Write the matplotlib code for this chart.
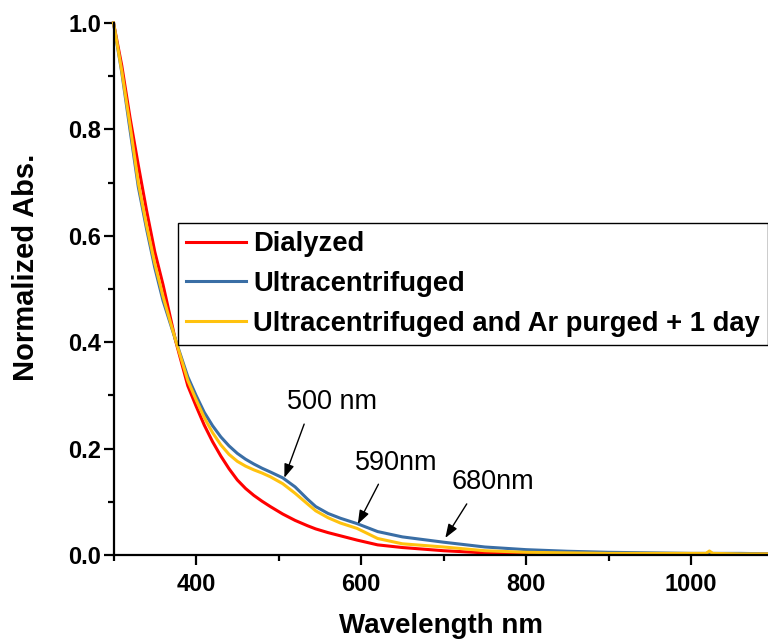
import matplotlib
matplotlib.use("Agg")
import matplotlib.pyplot as plt
from matplotlib.ticker import MultipleLocator, FormatStrFormatter

wavelength = [300, 310, 320, 330, 340, 350, 360, 375, 390, 400, 410, 420, 430, 440,
              450, 460, 470, 480, 490, 505, 520, 535, 545, 560, 575, 595, 620, 650,
              700, 750, 800, 850, 900, 950, 1000, 1018, 1022, 1026, 1060, 1100]

abs_dialyzed = [1.0, 0.920, 0.822, 0.733, 0.648, 0.570, 0.508, 0.404, 0.318, 0.280, 0.244, 0.213, 0.186, 0.162,
                0.141, 0.125, 0.112, 0.101, 0.091, 0.077, 0.065, 0.055, 0.049, 0.042, 0.036, 0.028, 0.019, 0.014,
                0.008, 0.004, 0.003, 0.002, 0.002, 0.002, 0.002, 0.002, 0.002, 0.002, 0.002, 0.002]

abs_ultra = [1.0, 0.907, 0.799, 0.692, 0.613, 0.540, 0.478, 0.405, 0.335, 0.300, 0.268, 0.243, 0.222, 0.205,
             0.191, 0.180, 0.171, 0.163, 0.156, 0.145, 0.128, 0.105, 0.091, 0.078, 0.069, 0.059, 0.044, 0.034,
             0.024, 0.015, 0.010, 0.007, 0.005, 0.004, 0.003, 0.003, 0.004, 0.003, 0.003, 0.002]

abs_ultra_ar = [1.0, 0.910, 0.808, 0.700, 0.620, 0.548, 0.486, 0.405, 0.328, 0.292, 0.258, 0.230, 0.207, 0.189,
                0.176, 0.167, 0.160, 0.154, 0.147, 0.134, 0.116, 0.096, 0.083, 0.070, 0.060, 0.050, 0.031, 0.021,
                0.015, 0.008, 0.005, 0.004, 0.003, 0.003, 0.003, 0.003, 0.0075, 0.003, 0.002, 0.002]

labels = ["Dialyzed", "Ultracentrifuged", "Ultracentrifuged and Ar purged + 1 day"]
colors = ["#ff0000", "#3a6ea5", "#ffc20e"]

# peak markers: (label, text position, arrow tail, arrow head)
peaks = [
    ("500 nm", (565, 0.288), (531, 0.246), (507, 0.145)),
    ("590nm", (642, 0.173), (621, 0.133), (596, 0.058)),
    ("680nm", (760, 0.137), (728, 0.096), (702, 0.032)),
]

plt.rcParams["font.family"] = ["Liberation Sans", "DejaVu Sans"]

fig = plt.figure(figsize=(7.68, 6.41), dpi=100)
ax = fig.add_axes([0.1478, 0.1342, 0.8522, 0.830])

for y, lab, c in zip([abs_dialyzed, abs_ultra, abs_ultra_ar], labels, colors):
    ax.plot(wavelength, y, color=c, lw=2.2, label=lab, clip_on=False)

for txt, pos, tail, head in peaks:
    ax.text(pos[0], pos[1], txt, fontsize=19.5, ha="center", va="center")
    ax.annotate("", xy=head, xytext=tail,
                arrowprops=dict(arrowstyle="-|>,head_length=0.55,head_width=0.2",
                                color="black", lw=1, mutation_scale=15,
                                shrinkA=0, shrinkB=0))

ax.set_xlim(300, 1093)
ax.set_ylim(0, 1.0)
ax.xaxis.set_major_locator(MultipleLocator(200))
ax.xaxis.set_minor_locator(MultipleLocator(100))
ax.yaxis.set_major_locator(MultipleLocator(0.2))
ax.yaxis.set_minor_locator(MultipleLocator(0.1))
ax.yaxis.set_major_formatter(FormatStrFormatter("%.1f"))

ax.spines["top"].set_visible(False)
ax.spines["right"].set_visible(False)
for s in ["left", "bottom"]:
    ax.spines[s].set_linewidth(1.6)

ax.tick_params(which="major", direction="out", length=7, width=1.6, labelsize=17)
ax.tick_params(which="minor", direction="out", length=4, width=1.6)
ax.tick_params(axis="x", pad=6)
ax.tick_params(axis="y", pad=2)
for t in ax.get_xticklabels() + ax.get_yticklabels():
    t.set_fontweight("bold")

ax.set_xlabel("Wavelength nm", fontsize=20, fontweight="bold", labelpad=12)
ax.set_ylabel("Normalized Abs.", fontsize=21, fontweight="bold")
ax.yaxis.set_label_coords(-0.112, 0.541)

leg = ax.legend(loc="upper left", bbox_to_anchor=(0.0985, 0.624), borderaxespad=0,
                prop={"size": 19.7, "weight": "bold"}, handlelength=2.2, handletextpad=0.25,
                labelspacing=0.5, borderpad=0.3, fancybox=False, framealpha=1)
leg.get_frame().set_edgecolor("black")
leg.get_frame().set_linewidth(1.0)

fig.savefig("out.png", dpi=100)
